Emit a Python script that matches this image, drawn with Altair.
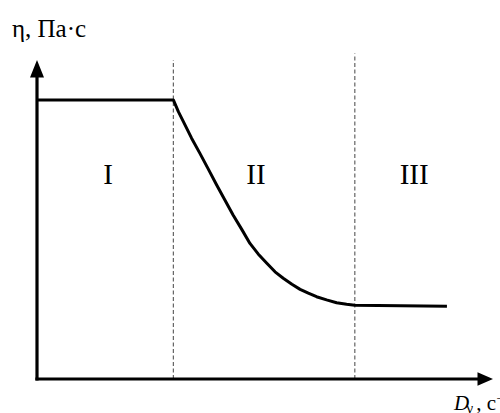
import altair as alt
import pandas as pd

# Flow curve: effective viscosity versus shear rate (schematic units)
shear_rate = [0.0, 2.99, 3.10, 3.21, 3.39, 3.57, 3.76, 3.94, 4.12, 4.30, 4.49,
              4.67, 4.85, 5.04, 5.22, 5.40, 5.59, 5.77, 5.95, 6.13, 6.35,
              6.57, 6.79, 6.97, 8.99]
viscosity = [8.75, 8.75, 8.38, 8.07, 7.55, 7.08, 6.57, 6.08, 5.61, 5.14, 4.69,
             4.25, 3.92, 3.63, 3.36, 3.16, 2.97, 2.81, 2.69, 2.58, 2.48,
             2.39, 2.34, 2.31, 2.28]

# Region boundaries (dashed) and how high they reach
boundary_x = [2.99, 6.97]
boundary_top = [10.0, 10.2]

# Region labels
region_names = ["I", "II", "III"]
region_x = [1.56, 4.80, 8.27]
region_y = [6.10, 6.10, 6.10]

# Axis extents (arrow tips)
x_max = 10.0
y_max = 10.0

# Axis titles, built from pieces (italic D, subscript gamma, superscript -1)
y_title_text = ["η, Па·с"]
y_title_x = [-0.55]
y_title_y = [10.73]

x_title_var = ["D"]
x_title_var_x = [9.145]
x_title_var_y = [-0.98]
x_title_sub = ["γ"]
x_title_sub_x = [9.42]
x_title_sub_y = [-1.08]
x_title_main = [", с"]
x_title_main_x = [9.63]
x_title_main_y = [-0.98]
x_title_sup = ["−1"]
x_title_sup_x = [10.07]
x_title_sup_y = [-0.76]

SERIF = "Liberation Serif"

xs = alt.Scale(domain=[0, x_max], nice=False, zero=False)
ys = alt.Scale(domain=[0, y_max], nice=False, zero=False)

curve_df = pd.DataFrame({"x": shear_rate, "y": viscosity})
bound_df = pd.DataFrame({"x": boundary_x, "y": [0.0, 0.0], "y2": boundary_top})
label_df = pd.DataFrame({"x": region_x, "y": region_y, "t": region_names})

boundaries = alt.Chart(bound_df).mark_rule(
    color="#555555", strokeWidth=1.1, strokeDash=[4, 2.5]
).encode(
    x=alt.X("x:Q", scale=xs, axis=None),
    y=alt.Y("y:Q", scale=ys, axis=None),
    y2="y2:Q",
)

curve = alt.Chart(curve_df).mark_line(
    color="black", strokeWidth=3, strokeJoin="round"
).encode(
    x=alt.X("x:Q", scale=xs, axis=None),
    y=alt.Y("y:Q", scale=ys, axis=None),
)

# Axis lines with arrowheads
y_axis_df = pd.DataFrame({"x": [0.0], "y": [0.0], "y2": [y_max - 0.5]})
x_axis_df = pd.DataFrame({"x": [0.0], "x2": [x_max - 0.35], "y": [0.0]})

y_axis = alt.Chart(y_axis_df).mark_rule(
    color="black", strokeWidth=3.2, strokeCap="square"
).encode(
    x=alt.X("x:Q", scale=xs, axis=None),
    y=alt.Y("y:Q", scale=ys, axis=None),
    y2="y2:Q",
)
x_axis = alt.Chart(x_axis_df).mark_rule(
    color="black", strokeWidth=3.2, strokeCap="square"
).encode(
    x=alt.X("x:Q", scale=xs, axis=None),
    x2="x2:Q",
    y=alt.Y("y:Q", scale=ys, axis=None),
)

up_arrow = alt.Chart(pd.DataFrame({"x": [0.0], "y": [y_max]})).mark_point(
    shape="M0,0L0.7,1.75L-0.7,1.75Z", size=400, filled=True,
    color="black", opacity=1, strokeWidth=0
).encode(
    x=alt.X("x:Q", scale=xs, axis=None),
    y=alt.Y("y:Q", scale=ys, axis=None),
)
right_arrow = alt.Chart(pd.DataFrame({"x": [x_max], "y": [0.0]})).mark_point(
    shape="M0,0L-1.55,-0.68L-1.55,0.68Z", size=400, filled=True,
    color="black", opacity=1, strokeWidth=0
).encode(
    x=alt.X("x:Q", scale=xs, axis=None),
    y=alt.Y("y:Q", scale=ys, axis=None),
)

labels = alt.Chart(label_df).mark_text(
    font=SERIF, fontSize=29, align="center", baseline="alphabetic", color="black"
).encode(
    x=alt.X("x:Q", scale=xs, axis=None),
    y=alt.Y("y:Q", scale=ys, axis=None),
    text="t:N",
)


def text_layer(texts, xv, yv, size, style="normal"):
    df = pd.DataFrame({"x": xv, "y": yv, "t": texts})
    return alt.Chart(df).mark_text(
        font=SERIF, fontSize=size, fontStyle=style, align="left",
        baseline="alphabetic", color="black"
    ).encode(
        x=alt.X("x:Q", scale=xs, axis=None),
        y=alt.Y("y:Q", scale=ys, axis=None),
        text="t:N",
    )


y_title = text_layer(y_title_text, y_title_x, y_title_y, 25)
x_var = text_layer(x_title_var, x_title_var_x, x_title_var_y, 21, "italic")
x_sub = text_layer(x_title_sub, x_title_sub_x, x_title_sub_y, 15)
x_main = text_layer(x_title_main, x_title_main_x, x_title_main_y, 21)
x_sup = text_layer(x_title_sup, x_title_sup_x, x_title_sup_y, 13)

chart = alt.layer(
    boundaries, curve, y_axis, x_axis, up_arrow, right_arrow, labels,
    y_title, x_var, x_sub, x_main, x_sup
).properties(
    width=456, height=319,
    autosize=alt.AutoSizeParams(type="none"),
    padding={"left": 37, "top": 60, "right": 7, "bottom": 34},
    background="white",
).configure_view(stroke=None)

chart.save("out.html", embed_options={"renderer": "svg", "actions": False})
